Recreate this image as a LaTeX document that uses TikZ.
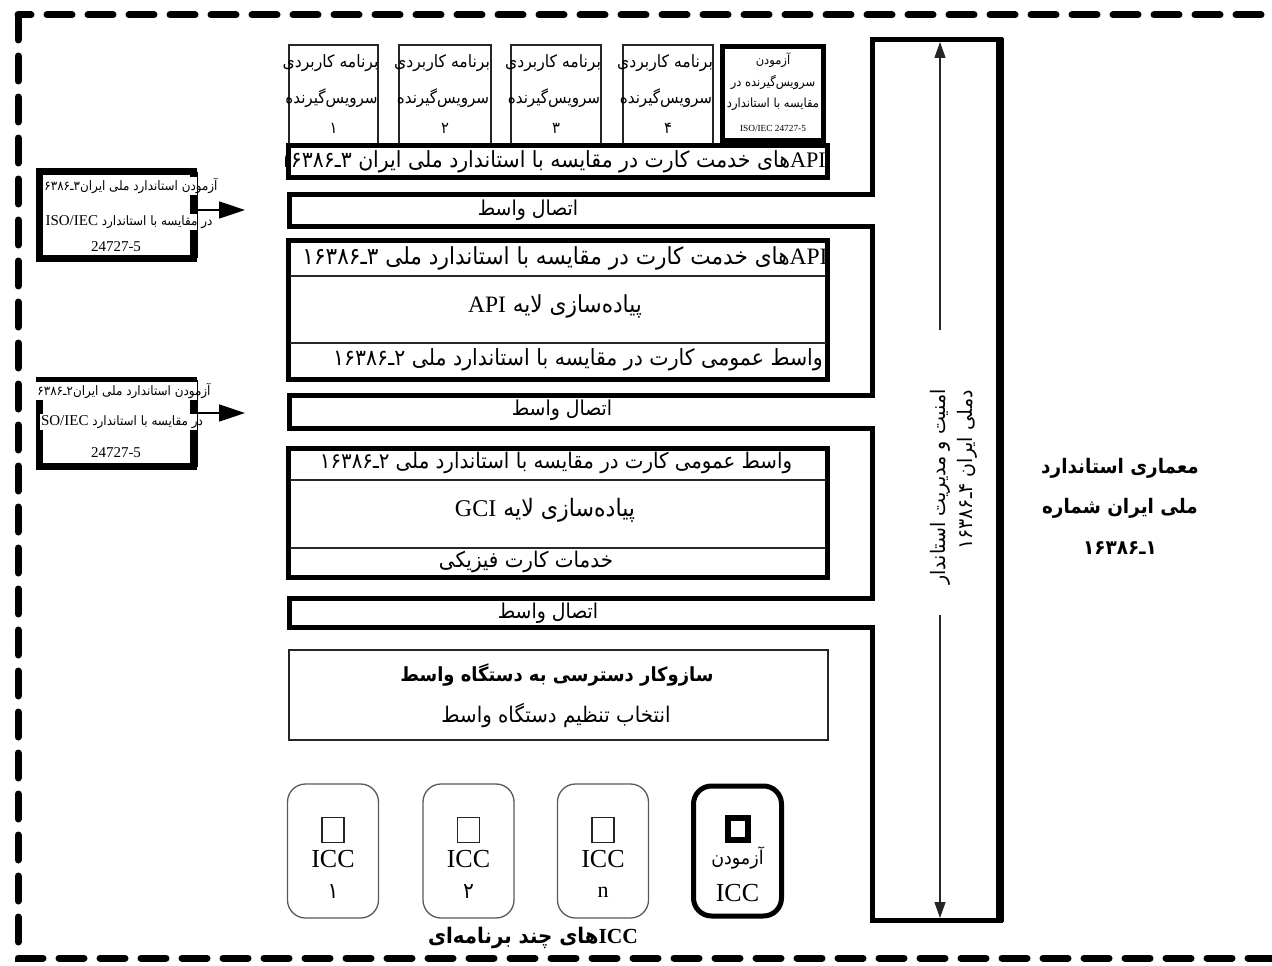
\documentclass[tikz,border=0pt]{standalone}
\usepackage{fontspec}
\setmainfont{Liberation Serif}
\newfontfamily\fa[Script=Arabic,FakeStretch=0.92]{DejaVu Sans}
\newfontfamily\facond[Script=Arabic,FakeStretch=0.95]{DejaVu Sans}
\TeXXeTstate=1
\usetikzlibrary{arrows.meta}
\newcommand\fsz[1]{\fontsize{#1}{#1}\selectfont}
\newcommand\rl[1]{\beginR #1\endR}
\newcommand\lat[1]{\beginL{\rmfamily #1}\endL}
\definecolor{ink}{gray}{0.15}
\definecolor{edge}{gray}{0.35}
\begin{document}
\begin{tikzpicture}[x=1pt,y=-1pt,
  txt/.style={inner sep=0pt, font=\fa},
  ltxt/.style={inner sep=0pt, font=\rmfamily},
  heavy/.style={draw, line width=5pt, inner sep=0pt},
  slim/.style={draw=ink, line width=1.3pt, inner sep=0pt},
  card/.style={draw=edge, line width=1.3pt, rounded corners=18pt, inner sep=0pt,
               minimum width=91pt, minimum height=134pt},
  chip/.style={draw=ink, line width=1.2pt, inner sep=0pt, minimum width=22pt, minimum height=25pt},
  bigtip/.style={-{Triangle[length=26pt,width=17pt]}, line width=1.5pt},
  sectip/.style={-{Triangle[length=16pt,width=11pt]}, line width=1.2pt, draw=ink, fill=ink},
  tag/.style={txt, fill=white, inner sep=1pt},
]
\useasboundingbox (0,0) rectangle (1272,966);

% dashed outer frame
\draw[line width=7pt, dash pattern=on 25pt off 16pt, line cap=round] (18,15) rectangle (1275,958);

% client applications
\foreach \i/\cx/\w/\d in {1/333.5/89/۱,2/445/92/۲,3/556/90/۳,4/668/90/۴}{
  \node[slim, minimum width=\w pt, minimum height=100pt] (app\i) at (\cx,95) {};
  \node[txt] (app\i-a) at (\cx-3,63) {\fsz{17}\rl{برنامه کاربردی}};
  \node[txt] (app\i-b) at (\cx-2,98) {\fsz{16.5}\rl{سرویس‌گیرنده}};
  \node[txt] (app\i-c) at (\cx,128) {\fsz{16}\rl{\d}};
}

% client test box
\node[heavy, minimum width=101pt, minimum height=94pt] (tsv) at (773,93.5) {};
\node[txt] (tsv-a) at (773,60) {\fsz{12.5}\rl{آزمودن}};
\node[txt] (tsv-b) at (773,82) {\fsz{12.5}\rl{سرویس‌گیرنده در}};
\node[txt] (tsv-c) at (773,104) {\fsz{12.5}\rl{مقایسه با استاندارد}};
\node[ltxt] (tsv-d) at (773,128) {\fsz{9.3}ISO/IEC 24727-5};

% card service API bar, its text cut off at the left edge
\node[heavy, minimum width=539pt, minimum height=32pt] (apib) at (558,161.5) {};
\begin{scope}
  \clip (285,146) rectangle (826,177);
  \node[txt, anchor=east] (apib-t) at (826,162) {\fsz{22.2}\rl{\lat{API}های خدمت کارت در مقایسه با استاندارد ملی ایران ۳ـ۱۶۳۸۶}};
\end{scope}

% security column with interface arms
\draw[line width=5pt, line join=miter]
  (872,40) -- (1000,40) -- (1000,920) -- (872,920) -- (872,627) -- (289,627)
  -- (289,598) -- (872,598) -- (872,428) -- (289,428) -- (289,395) -- (872,395)
  -- (872,226) -- (289,226) -- (289,194) -- (872,194) -- cycle;
\draw[line width=8pt] (1000,38) -- (1000,922);
\node[txt] (arm1) at (528,210) {\fsz{20.5}\rl{اتصال واسط}};
\node[txt] (arm2) at (562,410) {\fsz{20.5}\rl{اتصال واسط}};
\node[txt] (arm3) at (548,613) {\fsz{20.5}\rl{اتصال واسط}};

% API layer
\node[heavy, minimum width=539pt, minimum height=139pt] (apil) at (558,310) {};
\draw[slim] (290,276) -- (826,276);
\draw[slim] (290,343) -- (826,343);
\node[txt] (apil-a) at (565,258) {\fsz{23.5}\rl{\lat{API}های خدمت کارت در مقایسه با استاندارد ملی ۳ـ۱۶۳۸۶}};
\node[txt] (apil-b) at (555,306) {\fsz{23.5}\rl{پیاده‌سازی لایه \lat{API}}};
\node[txt] (apil-c) at (578,360) {\fsz{22.3}\rl{واسط عمومی کارت در مقایسه با استاندارد ملی ۲ـ۱۶۳۸۶}};

% GCI layer
\node[heavy, minimum width=539pt, minimum height=129pt] (gcil) at (558,513) {};
\draw[slim] (290,480) -- (826,480);
\draw[slim] (290,548) -- (826,548);
\node[txt] (gcil-a) at (556,463) {\fsz{21.5}\rl{واسط عمومی کارت در مقایسه با استاندارد ملی ۲ـ۱۶۳۸۶}};
\node[txt] (gcil-b) at (545,510) {\fsz{24}\rl{پیاده‌سازی لایه \lat{GCI}}};
\node[txt] (gcil-c) at (526,562) {\fsz{21.6}\rl{خدمات کارت فیزیکی}};

% interface device access
\node[slim, minimum width=539pt, minimum height=90pt] (acc) at (558.5,695) {};
\node[txt] (acc-a) at (557,675) {\fsz{19.5}\bfseries\rl{سازوکار دسترسی به دستگاه واسط}};
\node[txt] (acc-b) at (556,715) {\fsz{21.5}\rl{انتخاب تنظیم دستگاه واسط}};

% integrated circuit cards
\foreach \i/\cx/\d in {1/333/۱,2/468.5/۲,3/603/\lat{n}}{
  \node[card] (icc\i) at (\cx,851) {};
  \node[chip] (icc\i-s) at (\cx,830) {};
  \node[ltxt] (icc\i-n) at (\cx,859) {\fsz{26}ICC};
  \node[txt] (icc\i-d) at (\cx,892) {\fsz{22}\rl{\d}};
}
\node[card, draw=black, line width=5pt, minimum width=88pt, minimum height=130pt] (icc4) at (737.5,851) {};
\node[draw, line width=6pt, inner sep=0pt, minimum width=20pt, minimum height=22pt] (icc4-s) at (738,829) {};
\node[txt] (icc4-a) at (737.5,858) {\fsz{19}\rl{آزمودن}};
\node[ltxt] (icc4-n) at (737.5,893) {\fsz{26}ICC};
\node[txt] (iccs) at (533,938) {\fsz{21.5}\bfseries\rl{\lat{ICC}های چند برنامه‌ای}};

% security and management arrow
\node[txt, rotate=90] (sec1) at (940,487) {\facond\fsz{20}\rl{امنیت و مدیریت استاندار}};
\node[txt, rotate=90] (sec2) at (967,470) {\facond\fsz{20}\rl{دملی ایران ۴ـ۱۶۳۸۶}};
\coordinate (secTop) at (940,42);
\coordinate (secUp) at (940,330);
\coordinate (secDown) at (940,615);
\coordinate (secBot) at (940,918);
\draw[sectip] (secUp) -- (secTop);
\draw[sectip] (secDown) -- (secBot);

% architecture title
\node[txt] (arch-a) at (1120,468) {\fsz{20}\bfseries\rl{معماری استاندارد}};
\node[txt] (arch-b) at (1120,508) {\fsz{20}\bfseries\rl{ملی ایران شماره}};
\node[txt] (arch-c) at (1120,548) {\fsz{20}\bfseries\rl{۱ـ۱۶۳۸۶}};

% conformance test boxes
\node[draw, line width=7pt, inner sep=0pt, minimum width=154pt, minimum height=87pt] (tA) at (116.5,215) {};
\node[tag] (tA-a) at (131,186) {\fsz{13}\rl{آزمودن استاندارد ملی ایران۳ـ۶۳۸۶}};
\node[tag] (tA-b) at (129,222) {\fsz{13}\rl{در مقایسه با استاندارد  \lat{\fsz{15}ISO/IEC}}};
\node[ltxt] (tA-c) at (116,247) {\fsz{15}24727-5};
\draw[line width=1pt] (197,172) -- (197,258);
\coordinate (tAend) at (245,210);
\draw[bigtip] ([yshift=5pt]tA.east) -- (tAend);

\node[draw, line width=7pt, inner sep=0pt, minimum width=154pt, minimum height=86pt] (tB) at (116.5,423.5) {};
\node[tag] (tB-a) at (124,391) {\fsz{13}\rl{آزمودن استاندارد ملی ایران۲ـ۶۳۸۶}};
\node[tag] (tB-b) at (122,422) {\fsz{13}\rl{در مقایسه با استاندارد  \lat{\fsz{15}SO/IEC}}};
\node[ltxt] (tB-c) at (116,453) {\fsz{15}24727-5};
\draw[line width=1pt] (197,380) -- (197,467);
\coordinate (tBend) at (245,413);
\draw[bigtip] ([yshift=10.5pt]tB.east) -- (tBend);
\end{tikzpicture}
\end{document}
